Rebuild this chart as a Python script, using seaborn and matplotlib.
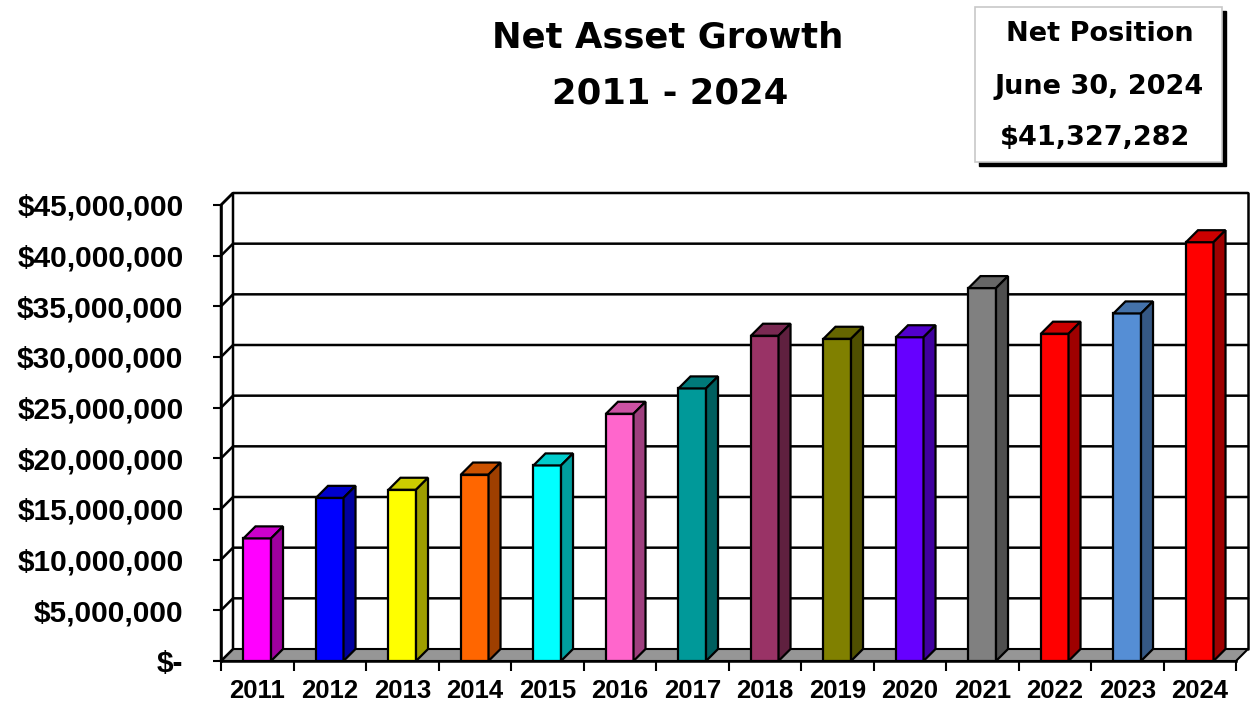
import matplotlib
matplotlib.use("Agg")
import numpy as np
import pandas as pd
import matplotlib.pyplot as plt
import matplotlib.transforms as mtransforms
from matplotlib.patches import Polygon, Rectangle
from matplotlib.lines import Line2D
import seaborn as sns

# data
years = ["2011", "2012", "2013", "2014", "2015", "2016", "2017",
         "2018", "2019", "2020", "2021", "2022", "2023", "2024"]
net_assets = [12100000, 16100000, 16900000, 18400000, 19300000, 24400000, 26900000,
              32100000, 31800000, 31950000, 36800000, 32300000, 34300000, 41327282]
bar_colors = ["#FF00FF", "#0000FF", "#FFFF00", "#FF6600", "#00FFFF", "#FF66CC", "#009999",
              "#993366", "#808000", "#6600FF", "#808080", "#FF0000", "#558ED5", "#FF0000"]
y_ticks = [0, 5000000, 10000000, 15000000, 20000000, 25000000,
           30000000, 35000000, 40000000, 45000000]
y_tick_labels = ["$-"] + [f"${v:,}" for v in y_ticks[1:]]
title_lines = ["Net Asset Growth", "2011 - 2024"]
box_lines = ["Net Position", "June 30, 2024", "$41,327,282"]

sns.set_theme(style="white")
plt.rcParams["font.family"] = ["Liberation Sans", "DejaVu Sans"]
plt.rcParams["text.color"] = "black"

W, H = 1250, 706
fig = plt.figure(figsize=(W / 100, H / 100), dpi=100)
ax = fig.add_axes([221 / W, 45 / H, 1015 / W, 456 / H])
ax.set_facecolor("none")

df = pd.DataFrame({"year": years, "value": net_assets})
sns.barplot(data=df, x="year", y="value", hue="year", palette=bar_colors,
            legend=False, width=0.38, saturation=1, edgecolor="black",
            linewidth=1.6, ax=ax, zorder=3)

ax.set_xlim(-0.5, len(years) - 0.5)
ax.set_ylim(0, y_ticks[-1])
ax.set_xlabel("")
ax.set_ylabel("")

# depth of the fake 3d effect, in pixels
DX, DY = 12, 12
x_lo, x_hi = -0.5, len(years) - 0.5
y_top = y_ticks[-1]


def disp(x, y, back=False):
    px, py = ax.transData.transform((x, y))
    if back:
        px, py = px + DX, py + DY
    return (px, py)


ident = mtransforms.IdentityTransform()

# floor
floor = Polygon([disp(x_lo, 0), disp(x_hi, 0), disp(x_hi, 0, True), disp(x_lo, 0, True)],
                closed=True, facecolor="#969696", edgecolor="black", linewidth=1.5,
                transform=ident, clip_on=False, zorder=1)
ax.add_patch(floor)

# left side wall
wall = Polygon([disp(x_lo, 0), disp(x_lo, y_top), disp(x_lo, y_top, True), disp(x_lo, 0, True)],
               closed=True, facecolor="white", edgecolor="black", linewidth=1.8,
               transform=ident, clip_on=False, zorder=1)
ax.add_patch(wall)

# gridlines on the back wall
for v in y_ticks[1:]:
    pts = np.array([disp(x_lo, v), disp(x_lo, v, True), disp(x_hi, v, True)])
    ax.add_line(Line2D(pts[:, 0], pts[:, 1], color="black", linewidth=1.8,
                       transform=ident, clip_on=False, zorder=1.5))

# right edge of the back wall
pts = np.array([disp(x_hi, 0, True), disp(x_hi, y_top, True)])
ax.add_line(Line2D(pts[:, 0], pts[:, 1], color="black", linewidth=1.8,
                   transform=ident, clip_on=False, zorder=1.5))

# top and side faces of each bar
for patch in list(ax.patches):
    if not isinstance(patch, Rectangle):
        continue
    x0, w, h = patch.get_x(), patch.get_width(), patch.get_height()
    fc = np.array(patch.get_facecolor()[:3])
    top = Polygon([disp(x0, h), disp(x0 + w, h), disp(x0 + w, h, True), disp(x0, h, True)],
                  closed=True, facecolor=fc * 0.8, edgecolor="black", linewidth=1.6,
                  transform=ident, clip_on=False, zorder=3)
    side = Polygon([disp(x0 + w, 0), disp(x0 + w, h), disp(x0 + w, h, True), disp(x0 + w, 0, True)],
                   closed=True, facecolor=fc * 0.62, edgecolor="black", linewidth=1.6,
                   transform=ident, clip_on=False, zorder=3)
    ax.add_patch(top)
    ax.add_patch(side)

# axes and ticks
for s in ["top", "right"]:
    ax.spines[s].set_visible(False)
for s in ["left", "bottom"]:
    ax.spines[s].set_color("black")
    ax.spines[s].set_linewidth(1.8)
    ax.spines[s].set_zorder(4)

ax.set_yticks(y_ticks, y_tick_labels)
ax.tick_params(axis="y", length=6, width=1.5, color="black", pad=21,
               labelsize=21.5, left=True, labelcolor="black")
ax.set_xticks(range(len(years)), years)
ax.set_xticks(np.arange(-0.5, len(years)), minor=True)
ax.tick_params(axis="x", which="major", length=0, pad=13, labelsize=18.5,
               labelcolor="black")
ax.tick_params(axis="x", which="minor", length=7, width=1.5, color="black", bottom=True)
for lab in ax.get_xticklabels() + ax.get_yticklabels():
    lab.set_fontweight("bold")

# title
fig.text(668 / W, 1 - 37 / H, title_lines[0], ha="center", va="center", color="black",
         fontsize=25.5, fontweight="bold", family=["DejaVu Sans"])
fig.text(670 / W, 1 - 93 / H, title_lines[1], ha="center", va="center", color="black",
         fontsize=25.5, fontweight="bold", family=["DejaVu Sans"])

# net position box
bx, by, bw, bh = 975, 7, 247, 155
fig.patches.append(Rectangle(((bx + 4) / W, 1 - (by + bh + 4) / H), bw / W, bh / H,
                             transform=fig.transFigure, facecolor="black",
                             edgecolor="black", zorder=0))
fig.patches.append(Rectangle((bx / W, 1 - (by + bh) / H), bw / W, bh / H,
                             transform=fig.transFigure, facecolor="white",
                             edgecolor="#c8c8c8", linewidth=1.2, zorder=1))
for txt, xc, yc in zip(box_lines, [1100, 1099, 1095], [34, 87, 138]):
    fig.text(xc / W, 1 - yc / H, txt, ha="center", va="center", fontsize=19.5,
             fontweight="bold", color="black", family=["DejaVu Sans"])

fig.savefig("out.png", dpi=100)
